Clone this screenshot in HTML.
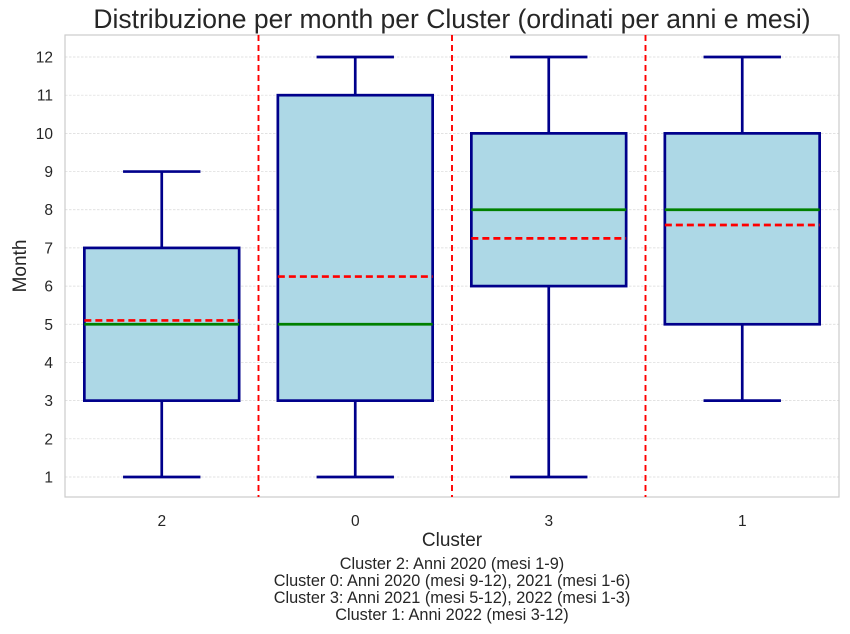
<!DOCTYPE html>
<html><head><meta charset="utf-8"><style>
body{margin:0;background:#fff;}
svg{display:block;font-family:"Liberation Sans","DejaVu Sans",sans-serif;}
</style></head><body>
<svg id="chart" width="850" height="634"></svg>
<script>
const categories=["2","0","3","1"];
const whiskerLow=[1,1,1,3];
const q1Values=[3,3,6,5];
const medianValues=[5,5,8,8];
const q3Values=[7,11,10,10];
const whiskerHigh=[9,12,12,12];
const meanValues=[5.1,6.25,7.25,7.6];
const yTicks=[1,2,3,4,5,6,7,8,9,10,11,12];
const notes=["Cluster 2: Anni 2020 (mesi 1-9)","Cluster 0: Anni 2020 (mesi 9-12), 2021 (mesi 1-6)","Cluster 3: Anni 2021 (mesi 5-12), 2022 (mesi 1-3)","Cluster 1: Anni 2022 (mesi 3-12)"];

const L=65,R=839,T=35,B=497;
const y=v=>477-(v-1)*(420/11);
const x=i=>L+(i+0.5)*(R-L)/categories.length;
const unit=(R-L)/categories.length;
const svg=document.getElementById('chart');
const NS='http://www.w3.org/2000/svg';
function mk(tag,attrs,parent){const e=document.createElementNS(NS,tag);for(const k in attrs)e.setAttribute(k,attrs[k]);(parent||svg).appendChild(e);return e;}

yTicks.forEach(t=>{
 const g=mk('line',{x1:L,x2:R,y1:y(t),y2:y(t),stroke:'#d8d8d8','stroke-width':0.7,'stroke-dasharray':'2.5,1.5'});
 
 
 const tl=mk('text',{x:53,y:y(t)+5.5,'text-anchor':'end','font-size':15.5,fill:'#262626'});tl.textContent=t;
 
 
});
const frame=mk('rect',{x:L,y:T,width:R-L,height:B-T,fill:'none',stroke:'#cccccc','stroke-width':1.2});



categories.forEach((c,i)=>{
 const cx=x(i),hw=unit*0.4,cw=unit*0.2;
 const g=mk('g',{});
 
 
 const st={stroke:'#00008b','stroke-width':2.7,fill:'none'};
 mk('line',Object.assign({x1:cx,x2:cx,y1:y(q1Values[i]),y2:y(whiskerLow[i])},st),g);
 mk('line',Object.assign({x1:cx,x2:cx,y1:y(q3Values[i]),y2:y(whiskerHigh[i])},st),g);
 mk('line',Object.assign({x1:cx-cw,x2:cx+cw,y1:y(whiskerLow[i]),y2:y(whiskerLow[i])},st),g);
 mk('line',Object.assign({x1:cx-cw,x2:cx+cw,y1:y(whiskerHigh[i]),y2:y(whiskerHigh[i])},st),g);
 mk('rect',{x:cx-hw,y:y(q3Values[i]),width:2*hw,height:y(q1Values[i])-y(q3Values[i]),fill:'#add8e6',stroke:'#00008b','stroke-width':2.7},g);
 mk('line',{x1:cx-hw,x2:cx+hw,y1:y(medianValues[i]),y2:y(medianValues[i]),stroke:'#008000','stroke-width':2.7},g);
 mk('line',{x1:cx-hw,x2:cx+hw,y1:y(meanValues[i]),y2:y(meanValues[i]),stroke:'#ff0000','stroke-width':2.7,'stroke-dasharray':'7,4'},g);
 const tl=mk('text',{x:cx,y:526,'text-anchor':'middle','font-size':15.5,fill:'#262626'});tl.textContent=c;
 
 
 if(i>0){
  const sep=mk('line',{x1:cx-unit/2,x2:cx-unit/2,y1:T,y2:B,stroke:'#ff0000','stroke-width':1.9,'stroke-dasharray':'6,4'});
  
  
 }
});

const title=mk('text',{x:452,y:28,'text-anchor':'middle','font-size':26.5,fill:'#262626'});
title.textContent='Distribuzione per month per Cluster (ordinati per anni e mesi)';


const xl=mk('text',{x:452,y:546,'text-anchor':'middle','font-size':19,fill:'#262626'});
xl.textContent='Cluster';


const yl=mk('text',{x:26,y:266,'text-anchor':'middle','font-size':19,fill:'#262626',transform:'rotate(-90 26 266)'});
yl.textContent='Month';


notes.forEach((n,k)=>{
 const t=mk('text',{x:452,y:569+k*17,'text-anchor':'middle','font-size':16.3,fill:'#262626'});t.textContent=n;
 
 
});
</script>
</body></html>
